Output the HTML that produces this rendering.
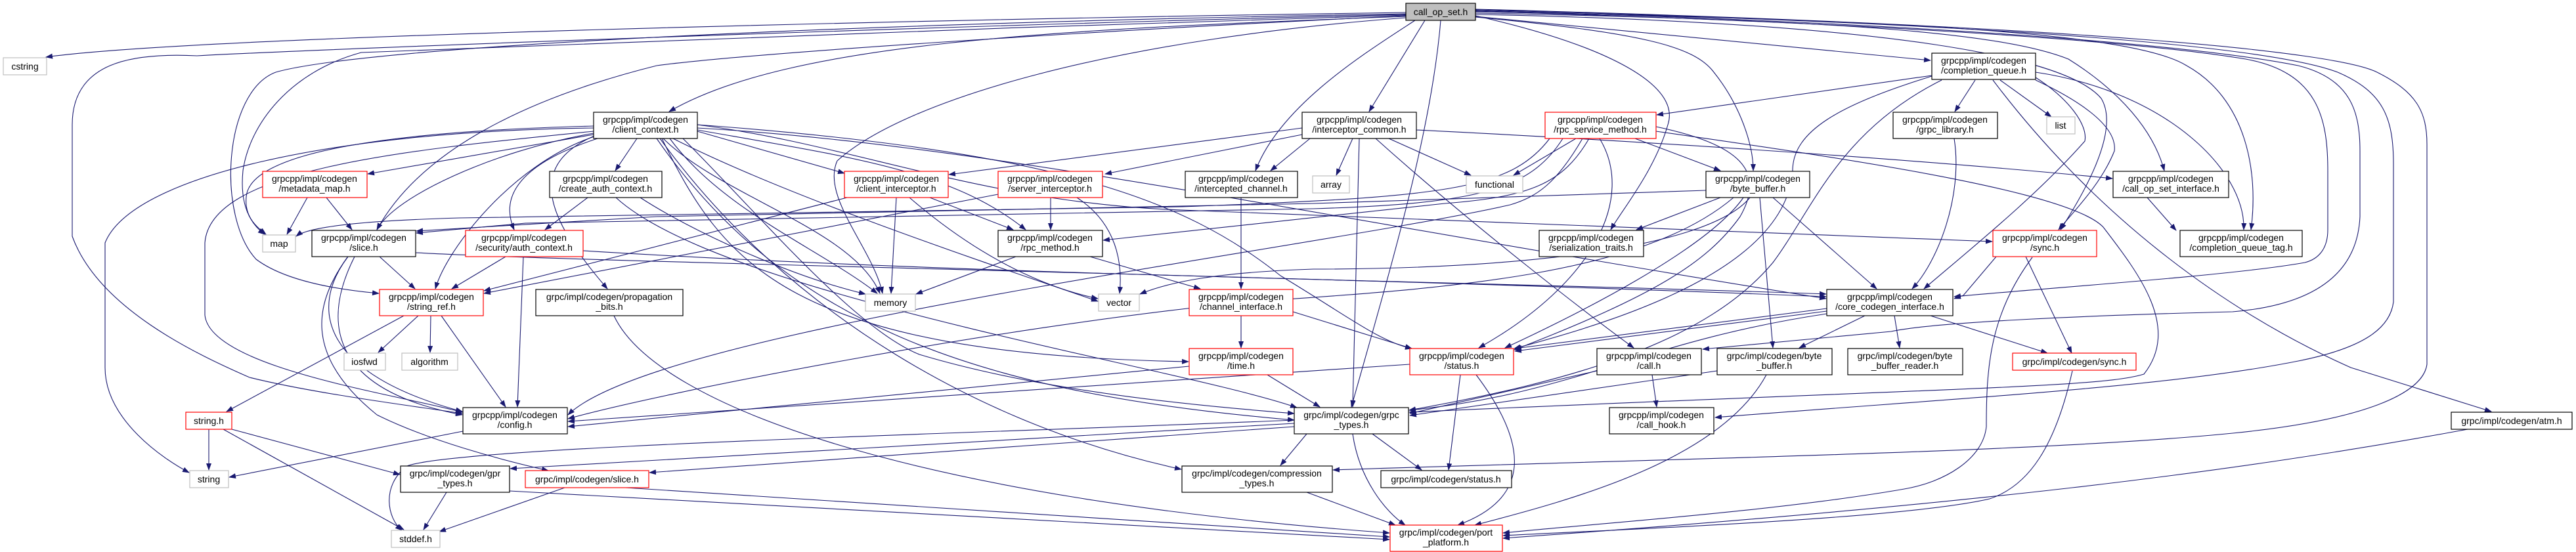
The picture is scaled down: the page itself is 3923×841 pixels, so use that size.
<!DOCTYPE html>
<html><head><meta charset="utf-8">
<style>
html,body{margin:0;padding:0;background:#fff;}
svg{display:block;}
text{font-family:"Liberation Sans",sans-serif;font-size:14px;fill:#000;text-anchor:middle;}
.e{fill:none;stroke:#191970;stroke-width:1.1;marker-end:url(#ah);}
.b{fill:#fff;stroke:#000;stroke-width:1.2;}
.r{fill:#fff;stroke:#ff0000;stroke-width:1.2;}
.g{fill:#fff;stroke:#bfbfbf;stroke-width:1.2;}
</style></head>
<body>
<svg width="3923" height="841" viewBox="0 0 3923 841" xmlns="http://www.w3.org/2000/svg">
<defs><marker id="ah" markerUnits="userSpaceOnUse" markerWidth="11" markerHeight="8" refX="10" refY="4" orient="auto"><path d="M0,0 L11,4 L0,8 z" fill="#191970"/></marker></defs>
<rect width="3923" height="841" fill="#fff"/>
<g>
<!-- call_op_set edges -->
<path class="e" d="M2141,19 C1400,30 300,55 70,87"/>
<path class="e" d="M2141,21 C1300,35 560,70 420,110 C340,140 330,330 390,395 C430,425 500,440 577,447"/>
<path class="e" d="M2141,22 C1400,40 480,75 300,85 C200,80 110,95 110,190 L110,360 C150,470 300,540 380,575 C480,600 640,620 704,630"/>
<path class="e" d="M2141,23 C1600,40 700,70 550,80 C440,110 380,190 370,260 C365,310 380,340 403,357"/>
<path class="e" d="M2141,24 C1700,45 1150,80 1000,100 C800,150 640,230 574,350"/>
<path class="e" d="M2141,25 C1600,45 1200,65 1019,170"/>
<path class="e" d="M2141,27 C1700,60 1380,150 1275,245 C1250,300 1330,380 1344,447"/>
<path class="e" d="M2170,31 L2085,170"/>
<path class="e" d="M2155,31 C2080,80 1950,160 1912,260"/>
<path class="e" d="M2194,31 C2180,200 2120,400 2058,620"/>
<path class="e" d="M2247,24 C2450,70 2560,130 2540,190 C2520,260 2470,320 2453,350"/>
<path class="e" d="M2247,26 C2500,50 2580,70 2610,110 C2650,160 2670,220 2670,260"/>
<path class="e" d="M2247,25 L2940,92"/>
<path class="e" d="M2247,20 C2800,30 3050,50 3150,90 C3230,140 3280,200 3296,260"/>
<path class="e" d="M2247,18 C2900,30 3250,50 3330,100 C3420,150 3440,260 3428,350"/>
<path class="e" d="M2247,22 C2900,35 3150,90 3200,150 C3230,200 3170,300 3138,350"/>
<path class="e" d="M2247,17 C3000,40 3300,70 3420,90 C3530,110 3545,180 3545,260 L3545,350 C3545,380 3530,395 3510,400 C3400,420 3100,440 2976,452"/>
<path class="e" d="M2247,16 C3100,40 3400,80 3500,100 C3580,120 3594,170 3594,230 L3594,330 C3590,420 3520,465 3400,475 C3200,480 2950,490 2880,505 L2593,532"/>
<path class="e" d="M2247,15 C3200,40 3480,80 3560,110 C3630,140 3645,180 3645,250 L3645,460 C3640,500 3600,530 3500,550 C3300,590 3000,605 2612,636"/>
<path class="e" d="M2247,14 C3200,40 3560,80 3620,110 C3680,140 3696,170 3696,220 L3696,555 C3690,600 3600,640 3400,660 C3100,690 2500,700 2030,716"/>
<!-- completion_queue -->
<path class="e" d="M2942,115 L2523,175"/>
<path class="e" d="M3008,122 L2977,170"/>
<path class="e" d="M3046,122 L3124,178"/>
<path class="e" d="M3100,110 C3300,140 3420,260 3417,350"/>
<path class="e" d="M3100,122 C3160,150 3225,190 3220,230 C3200,280 3160,320 3135,350"/>
<path class="e" d="M3100,118 C3150,150 3180,190 3175,215 C3100,300 3000,380 2930,440"/>
<path class="e" d="M3035,122 C3200,340 3400,480 3580,560 L3794,627"/>
<path class="e" d="M2942,116 C2800,160 2730,200 2730,260 C2720,400 2500,480 2306,531"/>
<path class="e" d="M2957,122 C2800,200 2760,320 2700,400 C2600,520 2400,580 2146,625"/>
<!-- interceptor_common -->
<path class="e" d="M2060,211 L2035,267"/>
<path class="e" d="M2115,211 L2240,267"/>
<path class="e" d="M2070,211 L2060,620"/>
<path class="e" d="M2095,211 C2250,350 2420,480 2488,530"/>
<path class="e" d="M1995,211 L1935,260"/>
<path class="e" d="M1983,205 L1683,265"/>
<path class="e" d="M1983,195 L1445,266"/>
<path class="e" d="M2157,198 C2600,220 3000,250 3217,272"/>
<!-- rpc_service_method -->
<path class="e" d="M2400,211 L2305,267"/>
<path class="e" d="M2490,211 L2620,260"/>
<path class="e" d="M2420,211 C2380,280 2330,300 2200,310 L1680,366"/>
<path class="e" d="M2436,211 C2490,300 2430,430 2252,530"/>
<path class="e" d="M2410,211 C2370,280 2340,300 2300,312 C2000,380 1000,500 865,632"/>
<path class="e" d="M2522,200 C2800,240 3150,290 3203,346 C3260,420 3320,500 3265,570 C3200,590 3000,590 2146,628"/>
<path class="e" d="M2522,193 C2650,220 2690,260 2650,330 C2600,400 2520,450 2306,533"/>
<path class="e" d="M2360,211 C2300,290 2200,300 1800,315 L700,332 C560,336 470,345 451,360"/>
<path class="e" d="M2380,211 C2330,290 2250,310 2000,318 L800,340 L634,355"/>
<!-- byte_buffer.h -->
<path class="e" d="M2620,301 L2492,350"/>
<path class="e" d="M2700,301 L2858,440"/>
<path class="e" d="M2680,301 L2700,530"/>
<path class="e" d="M2598,290 L2000,310 L1000,330 L634,352"/>
<path class="e" d="M2655,301 C2600,380 2400,480 2292,530"/>
<path class="e" d="M2640,301 C2500,420 2200,440 1900,460 C1500,500 1000,600 865,638"/>
<path class="e" d="M2665,301 C2600,380 2300,410 2000,410 C1850,415 1780,430 1736,448"/>
<!-- core_codegen -->
<path class="e" d="M2782,474 L2307,535"/>
<path class="e" d="M2782,470 L2307,531"/>
<path class="e" d="M2840,481 L2740,530"/>
<path class="e" d="M2885,481 L2893,530"/>
<path class="e" d="M2940,481 L3118,538"/>
<path class="e" d="M2782,478 C2500,520 2400,600 2146,625"/>
<!-- status etc -->
<path class="e" d="M2224,571 L2206,716"/>
<path class="e" d="M2248,571 C2330,680 2330,760 2220,800"/>
<path class="e" d="M2147,555 L865,642"/>
<path class="e" d="M2516,571 L2523,620"/>
<path class="e" d="M2432,565 L2147,630"/>
<path class="e" d="M2690,571 C2620,700 2400,760 2246,800"/>
<path class="e" d="M2615,565 L2147,633"/>
<path class="e" d="M2060,661 C2070,730 2110,780 2140,800"/>
<path class="e" d="M2090,661 L2165,716"/>
<path class="e" d="M1990,661 L1950,709"/>
<path class="e" d="M1971,650 L989,720"/>
<path class="e" d="M1971,640 C1500,660 700,680 620,710 C580,740 590,790 612,808"/>
<path class="e" d="M1971,645 L777,714"/>
<path class="e" d="M1990,750 L2125,800"/>
<path class="e" d="M3095,392 C3030,480 3025,560 3025,650 C3020,700 2960,735 2900,745 C2700,780 2400,800 2289,812"/>
<path class="e" d="M3156,565 C3130,680 3090,740 3030,760 C2900,790 2500,805 2289,816"/>
<path class="e" d="M3758,654 C3400,720 3000,770 2289,820"/>
<path class="e" d="M3040,391 L2990,450 L2976,455"/>
<path class="e" d="M3085,391 L3155,538"/>
<path class="e" d="M3270,301 L3314,351"/>
<path class="e" d="M2976,211 C2990,300 2950,400 2912,440"/>
<!-- left side -->
<path class="e" d="M680,750 L645,807"/>
<path class="e" d="M776,748 L2116,822"/>
<path class="e" d="M860,743 L669,810"/>
<path class="e" d="M953,743 L2116,818"/>
<path class="e" d="M318,654 L318,716"/>
<path class="e" d="M340,654 L615,807"/>
<path class="e" d="M353,654 L609,723"/>
<path class="e" d="M705,657 L349,727"/>
<path class="e" d="M615,481 L345,627"/>
<path class="e" d="M637,481 L576,537"/>
<path class="e" d="M656,481 L655,537"/>
<path class="e" d="M672,481 L770,620"/>
<path class="e" d="M578,391 L632,440"/>
<path class="e" d="M530,391 C470,470 490,570 704,627"/>
<path class="e" d="M540,391 C500,470 480,590 704,632"/>
<path class="e" d="M529,392 C480,460 460,540 574,632 C650,670 760,700 835,717"/>
<path class="e" d="M633,385 C900,400 2000,420 2781,452"/>
<path class="e" d="M468,301 L437,357"/>
<path class="e" d="M497,301 L536,350"/>
<path class="e" d="M770,391 L688,440"/>
<path class="e" d="M797,391 L788,620"/>
<path class="e" d="M888,382 C1500,420 2300,430 2781,448"/>
<path class="e" d="M895,301 L830,350"/>
<path class="e" d="M975,301 C1050,350 1200,420 1318,448"/>
<path class="e" d="M938,301 C1100,450 1800,560 1975,621"/>
<path class="e" d="M935,481 C1000,620 1400,760 2116,812"/>
<!-- client_context -->
<path class="e" d="M904,205 L560,265"/>
<path class="e" d="M904,192 C600,200 380,230 375,300 C372,330 390,345 405,357"/>
<path class="e" d="M904,203 C750,230 600,300 574,350"/>
<path class="e" d="M905,208 C780,250 680,380 663,440"/>
<path class="e" d="M910,211 C760,260 770,320 783,350"/>
<path class="e" d="M970,211 L937,260"/>
<path class="e" d="M910,205 C800,250 830,330 925,440"/>
<path class="e" d="M904,195 C500,200 200,270 160,370 L160,560 C160,640 250,700 288,720"/>
<path class="e" d="M904,200 C600,230 320,260 312,370 L312,480 C320,560 600,600 704,628"/>
<path class="e" d="M1062,200 L1286,264"/>
<path class="e" d="M1062,198 C1300,240 1450,260 1562,350"/>
<path class="e" d="M1010,211 C1100,300 1300,350 1340,447"/>
<path class="e" d="M1020,211 C1100,320 1250,380 1336,447"/>
<path class="e" d="M1025,211 C1200,300 1500,400 1672,459"/>
<path class="e" d="M1008,211 C1100,400 1200,540 1810,551"/>
<path class="e" d="M1062,190 C1600,230 1800,300 1950,420 C2050,480 2100,520 2150,531"/>
<path class="e" d="M1000,211 C1200,500 1500,600 1971,640"/>
<path class="e" d="M1005,211 C1200,480 1500,650 1799,715"/>
<path class="e" d="M1062,195 C1500,220 2000,330 2781,455"/>
<path class="e" d="M1062,190 C1300,220 1500,310 1800,320 L3034,368"/>
<path class="e" d="M1040,211 C1150,320 1300,500 1400,540 C1600,600 1850,620 1971,630"/>
<!-- interceptors etc -->
<path class="e" d="M1290,301 L737,443"/>
<path class="e" d="M1365,301 L1357,447"/>
<path class="e" d="M1416,301 L1543,350"/>
<path class="e" d="M1385,301 C1500,400 1600,440 1672,455"/>
<path class="e" d="M1520,296 L737,447"/>
<path class="e" d="M1600,301 L1600,350"/>
<path class="e" d="M1640,301 C1700,340 1710,400 1705,447"/>
<path class="e" d="M1547,391 L1395,448"/>
<path class="e" d="M1660,391 L1828,440"/>
<path class="e" d="M1890,301 L1890,440"/>
<path class="e" d="M1890,481 L1890,530"/>
<path class="e" d="M1969,475 L2150,531"/>
<path class="e" d="M1811,558 L865,650"/>
<path class="e" d="M1930,571 L2010,620"/>
</g>
<!-- nodes -->
<g>
<rect x="2141" y="5" width="106" height="26" fill="#bfbfbf" stroke="#000" stroke-width="1.2"/><text x="2194" y="23">call_op_set.h</text>
<rect class="g" x="5" y="88" width="66" height="26"/><text x="38" y="106">cstring</text>
<rect class="b" x="904" y="171" width="158" height="40"/><text x="983" y="187">grpcpp/impl/codegen</text><text x="983" y="202">/client_context.h</text>
<rect class="r" x="400" y="261" width="159" height="40"/><text x="479" y="277">grpcpp/impl/codegen</text><text x="479" y="292">/metadata_map.h</text>
<rect class="b" x="837" y="261" width="171" height="40"/><text x="922" y="277">grpcpp/impl/codegen</text><text x="922" y="292">/create_auth_context.h</text>
<rect class="g" x="400" y="358" width="50" height="26"/><text x="425" y="376">map</text>
<rect class="b" x="475" y="351" width="158" height="40"/><text x="554" y="367">grpcpp/impl/codegen</text><text x="554" y="382">/slice.h</text>
<rect class="r" x="709" y="351" width="179" height="40"/><text x="798" y="367">grpcpp/impl/codegen</text><text x="798" y="382">/security/auth_context.h</text>
<rect class="r" x="578" y="441" width="158" height="40"/><text x="657" y="457">grpcpp/impl/codegen</text><text x="657" y="472">/string_ref.h</text>
<rect class="b" x="816" y="441" width="224" height="40"/><text x="928" y="457">grpc/impl/codegen/propagation</text><text x="928" y="472">_bits.h</text>
<rect class="g" x="524" y="538" width="63" height="26"/><text x="555" y="556">iosfwd</text>
<rect class="g" x="612" y="538" width="85" height="26"/><text x="654" y="556">algorithm</text>
<rect class="b" x="705" y="621" width="159" height="40"/><text x="784" y="637">grpcpp/impl/codegen</text><text x="784" y="652">/config.h</text>
<rect class="r" x="283" y="628" width="70" height="26"/><text x="318" y="646">string.h</text>
<rect class="g" x="289" y="717" width="59" height="26"/><text x="318" y="735">string</text>
<rect class="b" x="610" y="710" width="166" height="40"/><text x="693" y="726">grpc/impl/codegen/gpr</text><text x="693" y="741">_types.h</text>
<rect class="r" x="800" y="717" width="188" height="26"/><text x="894" y="735">grpc/impl/codegen/slice.h</text>
<rect class="g" x="596" y="808" width="74" height="26"/><text x="633" y="826">stddef.h</text>
<rect class="r" x="1286" y="261" width="158" height="40"/><text x="1365" y="277">grpcpp/impl/codegen</text><text x="1365" y="292">/client_interceptor.h</text>
<rect class="r" x="1520" y="261" width="159" height="40"/><text x="1599" y="277">grpcpp/impl/codegen</text><text x="1599" y="292">/server_interceptor.h</text>
<rect class="b" x="1805" y="261" width="171" height="40"/><text x="1890" y="277">grpcpp/impl/codegen</text><text x="1890" y="292">/intercepted_channel.h</text>
<rect class="b" x="1520" y="351" width="159" height="40"/><text x="1599" y="367">grpcpp/impl/codegen</text><text x="1599" y="382">/rpc_method.h</text>
<rect class="g" x="1318" y="448" width="76" height="26"/><text x="1356" y="466">memory</text>
<rect class="g" x="1673" y="448" width="62" height="26"/><text x="1704" y="466">vector</text>
<rect class="r" x="1811" y="441" width="158" height="40"/><text x="1890" y="457">grpcpp/impl/codegen</text><text x="1890" y="472">/channel_interface.h</text>
<rect class="r" x="1811" y="531" width="158" height="40"/><text x="1890" y="547">grpcpp/impl/codegen</text><text x="1890" y="562">/time.h</text>
<rect class="b" x="1800" y="710" width="229" height="40"/><text x="1914" y="726">grpc/impl/codegen/compression</text><text x="1914" y="741">_types.h</text>
<rect class="b" x="1971" y="621" width="174" height="40"/><text x="2058" y="637">grpc/impl/codegen/grpc</text><text x="2058" y="652">_types.h</text>
<rect class="b" x="1983" y="171" width="174" height="40"/><text x="2070" y="187">grpcpp/impl/codegen</text><text x="2070" y="202">/interceptor_common.h</text>
<rect class="r" x="2353" y="171" width="169" height="40"/><text x="2437" y="187">grpcpp/impl/codegen</text><text x="2437" y="202">/rpc_service_method.h</text>
<rect class="g" x="1999" y="268" width="56" height="26"/><text x="2027" y="286">array</text>
<rect class="g" x="2233" y="268" width="86" height="26"/><text x="2276" y="286">functional</text>
<rect class="b" x="2598" y="261" width="158" height="40"/><text x="2677" y="277">grpcpp/impl/codegen</text><text x="2677" y="292">/byte_buffer.h</text>
<rect class="b" x="2344" y="351" width="159" height="40"/><text x="2423" y="367">grpcpp/impl/codegen</text><text x="2423" y="382">/serialization_traits.h</text>
<rect class="b" x="2782" y="441" width="192" height="40"/><text x="2878" y="457">grpcpp/impl/codegen</text><text x="2878" y="472">/core_codegen_interface.h</text>
<rect class="r" x="2147" y="531" width="158" height="40"/><text x="2226" y="547">grpcpp/impl/codegen</text><text x="2226" y="562">/status.h</text>
<rect class="b" x="2432" y="531" width="159" height="40"/><text x="2511" y="547">grpcpp/impl/codegen</text><text x="2511" y="562">/call.h</text>
<rect class="b" x="2615" y="531" width="175" height="40"/><text x="2702" y="547">grpc/impl/codegen/byte</text><text x="2702" y="562">_buffer.h</text>
<rect class="b" x="2814" y="531" width="175" height="40"/><text x="2901" y="547">grpc/impl/codegen/byte</text><text x="2901" y="562">_buffer_reader.h</text>
<rect class="b" x="2451" y="621" width="159" height="40"/><text x="2530" y="637">grpcpp/impl/codegen</text><text x="2530" y="652">/call_hook.h</text>
<rect class="b" x="2103" y="717" width="199" height="26"/><text x="2202" y="735">grpc/impl/codegen/status.h</text>
<rect class="r" x="2117" y="800" width="171" height="40"/><text x="2202" y="816">grpc/impl/codegen/port</text><text x="2202" y="831">_platform.h</text>
<rect class="b" x="2942" y="81" width="158" height="40"/><text x="3021" y="97">grpcpp/impl/codegen</text><text x="3021" y="112">/completion_queue.h</text>
<rect class="b" x="2883" y="171" width="159" height="40"/><text x="2962" y="187">grpcpp/impl/codegen</text><text x="2962" y="202">/grpc_library.h</text>
<rect class="g" x="3117" y="178" width="43" height="26"/><text x="3138" y="196">list</text>
<rect class="b" x="3218" y="261" width="176" height="40"/><text x="3306" y="277">grpcpp/impl/codegen</text><text x="3306" y="292">/call_op_set_interface.h</text>
<rect class="b" x="3320" y="351" width="186" height="40"/><text x="3413" y="367">grpcpp/impl/codegen</text><text x="3413" y="382">/completion_queue_tag.h</text>
<rect class="r" x="3035" y="351" width="158" height="40"/><text x="3114" y="367">grpcpp/impl/codegen</text><text x="3114" y="382">/sync.h</text>
<rect class="r" x="3065" y="538" width="188" height="26"/><text x="3159" y="556">grpc/impl/codegen/sync.h</text>
<rect class="b" x="3733" y="628" width="184" height="26"/><text x="3825" y="646">grpc/impl/codegen/atm.h</text>
</g>
</svg>
</body></html>
